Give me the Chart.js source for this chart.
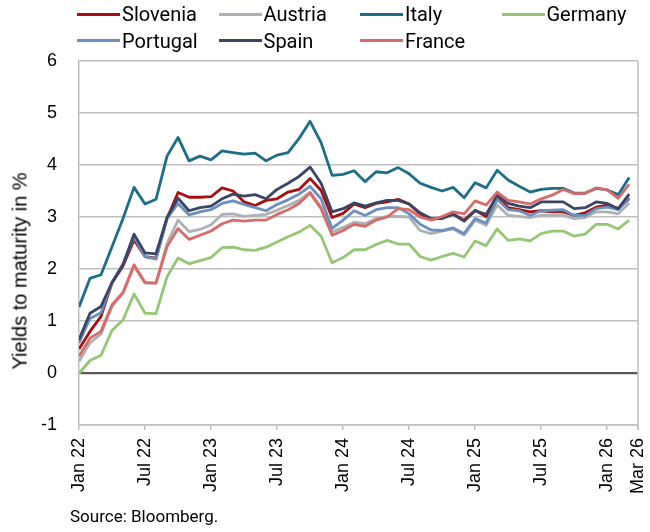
<!DOCTYPE html>
<html>
<head>
<meta charset="utf-8">
<script src="https://cdn.jsdelivr.net/npm/chart.js@4.4.1/dist/chart.umd.min.js"></script>
<style>
body{margin:0;background:#fff;}
#wrap{position:relative;width:650px;height:532px;overflow:hidden;}
#box{position:absolute;left:0;top:0;width:650px;height:532px;}
#legend{position:absolute;left:0;top:0;width:650px;height:56px;font-family:Roboto,"Liberation Sans",sans-serif;font-size:20px;color:#000;}
.item{position:absolute;display:flex;align-items:center;height:24px;white-space:nowrap;}
.item span.sw{display:inline-block;width:43px;height:3px;margin-right:2px;}
#ytitle{position:absolute;left:20px;top:271px;transform:translate(-50%,-50%) rotate(-90deg);font-family:"Liberation Sans",Arial,sans-serif;font-size:20px;white-space:nowrap;color:#000;}
#source{position:absolute;left:70px;top:506px;font-family:Roboto,"Liberation Sans",sans-serif;font-size:17px;color:#000;}
</style>
</head>
<body>
<div id="wrap">
  <div id="box"><canvas id="yieldChart"></canvas></div>
  <div id="legend"></div>
  <div id="ytitle">Yields to maturity in %</div>
  <div id="source">Source: Bloomberg.</div>
</div>
<script>
// months Jan 22 .. Mar 26
const months=["Jan 22","Feb 22","Mar 22","Apr 22","May 22","Jun 22","Jul 22","Aug 22","Sep 22","Oct 22","Nov 22","Dec 22",
"Jan 23","Feb 23","Mar 23","Apr 23","May 23","Jun 23","Jul 23","Aug 23","Sep 23","Oct 23","Nov 23","Dec 23",
"Jan 24","Feb 24","Mar 24","Apr 24","May 24","Jun 24","Jul 24","Aug 24","Sep 24","Oct 24","Nov 24","Dec 24",
"Jan 25","Feb 25","Mar 25","Apr 25","May 25","Jun 25","Jul 25","Aug 25","Sep 25","Oct 25","Nov 25","Dec 25",
"Jan 26","Feb 26","Mar 26"];
const tickMonths=[0,6,12,18,24,30,36,42,48,50.8];

const slovenia=[0.46,0.80,1.09,1.73,2.06,2.56,2.24,2.21,2.97,3.47,3.38,3.38,3.39,3.56,3.50,3.29,3.22,3.32,3.35,3.48,3.53,3.74,3.51,2.99,3.07,3.25,3.18,3.26,3.29,3.34,3.25,3.06,2.95,2.99,3.06,2.94,3.13,3.01,3.39,3.18,3.14,3.10,3.12,3.10,3.10,3.03,3.08,3.19,3.23,3.16,3.35];
const austria=[0.22,0.58,0.75,1.28,1.53,2.05,1.73,1.73,2.49,2.94,2.72,2.76,2.85,3.05,3.06,3.01,3.03,3.05,3.13,3.22,3.32,3.48,3.19,2.71,2.80,2.90,2.87,2.97,3.01,3.01,3.00,2.74,2.68,2.73,2.77,2.65,2.94,2.84,3.23,3.03,3.01,2.99,3.03,3.03,3.03,2.97,2.99,3.10,3.10,3.06,3.27];
const italy=[1.27,1.82,1.89,2.43,2.97,3.57,3.25,3.34,4.17,4.53,4.08,4.17,4.10,4.27,4.24,4.21,4.23,4.08,4.19,4.24,4.51,4.84,4.43,3.80,3.82,3.89,3.68,3.87,3.85,3.95,3.83,3.65,3.57,3.50,3.57,3.37,3.66,3.56,3.90,3.71,3.59,3.48,3.53,3.55,3.55,3.46,3.46,3.55,3.52,3.43,3.76];
const germany=[-0.01,0.24,0.34,0.82,1.02,1.52,1.15,1.14,1.85,2.21,2.10,2.16,2.22,2.41,2.42,2.37,2.36,2.42,2.52,2.62,2.71,2.84,2.63,2.12,2.22,2.37,2.37,2.47,2.55,2.48,2.48,2.24,2.17,2.24,2.30,2.23,2.54,2.45,2.77,2.55,2.58,2.54,2.68,2.73,2.73,2.63,2.67,2.86,2.86,2.77,2.94];
const portugal=[0.58,1.05,1.16,1.73,2.10,2.62,2.24,2.19,2.97,3.26,3.04,3.10,3.14,3.26,3.31,3.24,3.18,3.12,3.24,3.33,3.44,3.59,3.35,2.78,2.94,3.12,3.03,3.14,3.18,3.18,3.06,2.86,2.75,2.74,2.79,2.68,2.97,2.88,3.34,3.14,3.12,3.03,3.12,3.13,3.14,3.03,3.03,3.16,3.19,3.14,3.37];
const spain=[0.64,1.15,1.28,1.74,2.08,2.67,2.31,2.29,2.99,3.36,3.12,3.18,3.21,3.35,3.44,3.40,3.43,3.35,3.53,3.65,3.78,3.96,3.65,3.10,3.16,3.27,3.21,3.27,3.32,3.32,3.25,3.08,2.97,2.97,3.05,2.92,3.12,3.05,3.42,3.26,3.21,3.18,3.29,3.29,3.29,3.16,3.18,3.29,3.26,3.16,3.44];
const france=[0.32,0.67,0.80,1.31,1.55,2.08,1.74,1.73,2.43,2.78,2.57,2.65,2.73,2.87,2.94,2.92,2.94,2.94,3.05,3.14,3.26,3.46,3.16,2.65,2.74,2.86,2.82,2.94,3.00,3.16,3.14,3.00,2.94,3.01,3.10,3.06,3.31,3.23,3.48,3.32,3.29,3.25,3.35,3.42,3.53,3.45,3.45,3.56,3.52,3.36,3.63];

const names=["Slovenia","Austria","Italy","Germany","Portugal","Spain","France"];
const colors=["#a50f0f","#adb1b6","#1c6e88","#95c673","#6b8fbf","#3a4565","#d96a6a"];
const series=[slovenia,austria,italy,germany,portugal,spain,france];

// legend laid out in a 4-column grid like the original
const legend=document.getElementById("legend");
names.forEach((n,i)=>{
    const el=document.createElement("div");
    el.className="item";
    el.style.left=(77+141.5*(i%4))+"px";
    el.style.top=(i<4?2:28.5)+"px";
    el.innerHTML='<span class="sw" style="background:'+colors[i]+'"></span>'+n;
    legend.appendChild(el);
});

const rightBorder={
    id:"rightBorder",
    afterDraw(chart){
        const a=chart.chartArea, c=chart.ctx;
        c.save();
        c.strokeStyle="#bfbfbf";
        c.lineWidth=1.5;
        c.beginPath();
        c.moveTo(a.right,a.top);
        c.lineTo(a.right,a.bottom+5);
        c.stroke();
        c.restore();
    }
};

const ctx=document.getElementById("yieldChart").getContext("2d");
new Chart(ctx,{
    type:"line",
    data:{
        datasets:series.map((s,i)=>({
            label:names[i],
            data:s.map((v,k)=>({x:k,y:v})),
            borderColor:colors[i],
            backgroundColor:colors[i],
            borderWidth:2.8,
            pointRadius:0,
            tension:0,
            borderJoinStyle:"round",
            order:series.length-i
        }))
    },
    options:{
        responsive:true,
        maintainAspectRatio:false,
        animation:false,
        layout:{padding:{top:61,right:12,left:0,bottom:0}},
        plugins:{legend:{display:false},tooltip:{enabled:false}},
        scales:{
            x:{
                type:"linear",
                min:0,
                max:50.8,
                afterBuildTicks:scale=>{scale.ticks=tickMonths.map(v=>({value:v}));},
                afterFit:scale=>{scale.height=107;scale.paddingRight=0;scale.paddingLeft=0;},
                ticks:{
                    autoSkip:false,
                    maxRotation:90,
                    minRotation:90,
                    padding:8,
                    color:"#000",
                    font:{family:"Liberation Sans",size:18},
                    callback:v=>months[Math.min(Math.round(v),months.length-1)]
                },
                grid:{drawOnChartArea:false,drawTicks:true,tickLength:5,color:"#bfbfbf",lineWidth:1.5},
                border:{color:"#bfbfbf",width:1.5}
            },
            y:{
                min:-1,
                max:6,
                afterFit:scale=>{scale.width=79;},
                ticks:{
                    stepSize:1,
                    padding:22,
                    color:"#000",
                    font:{family:"Liberation Sans",size:18}
                },
                grid:{
                    drawTicks:false,
                    color:c=>c.tick.value===0?"#595959":"#bfbfbf",
                    lineWidth:c=>c.tick.value===0?2.2:1.5
                },
                border:{color:"#bfbfbf",width:1.5}
            }
        }
    },
    plugins:[rightBorder]
});
</script>
</body>
</html>
